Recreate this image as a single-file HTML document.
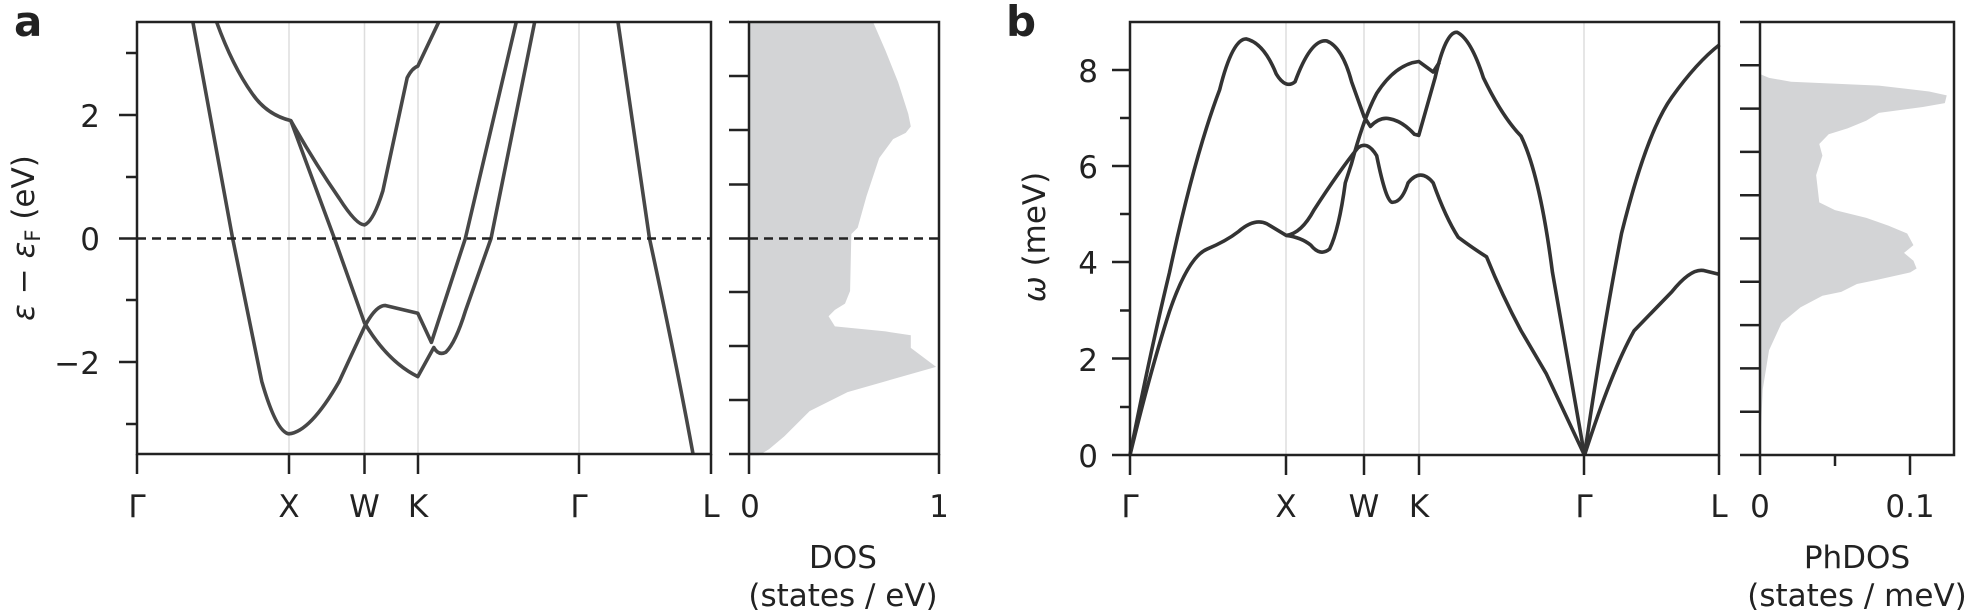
<!DOCTYPE html>
<html><head><meta charset="utf-8"><style>
html,body{margin:0;padding:0;background:#fff;}
svg{display:block;}
text{font-family:"DejaVu Sans","Liberation Sans",sans-serif;fill:#222;}
</style></head><body>
<svg width="1984" height="610" viewBox="0 0 1984 610" xmlns="http://www.w3.org/2000/svg">
<!-- ===== Panel a ===== -->
<g stroke="#ddd" stroke-width="1.5">
<line x1="289" y1="22" x2="289" y2="454"/><line x1="364.5" y1="22" x2="364.5" y2="454"/><line x1="418" y1="22" x2="418" y2="454"/><line x1="579" y1="22" x2="579" y2="454"/>
</g>
<g transform="scale(1.265)">
<path fill="#d3d4d6" d="M592,17 L690,17 L700,40 L710,65 L718,90 L720,100 L716,105 L706,110 L695,125 L685,155 L678,180 L673,185 L672,230 L668,240 L660,245 L655,250 L660,258 L700,262 L720,265 L720,275 L740,290 L670,310 L640,325 L620,345 L608,355 L600,360 L592,360 Z"/>
</g>
<g transform="scale(0.4847,0.3891)" fill="none" stroke="#474747" stroke-width="3.6" stroke-linejoin="round">
<path vector-effect="non-scaling-stroke" d="M398,57 L480,613 L540,980 Q570,1110 596,1115 Q640,1110 700,980 L752,840 Q775,785 795,785 L862,805 L890,880 L960,613 L1065,57"/>
<path vector-effect="non-scaling-stroke" d="M447,57 Q480,170 520,240 Q550,295 600,310 Q650,420 700,510 Q735,578 752,578 Q770,570 790,490 L840,200 Q850,175 862,170 L905,57"/>
<path vector-effect="non-scaling-stroke" d="M600,310 L690,613 L752,830 Q800,930 862,968 L895,893 Q905,915 920,905 Q940,880 960,800 L1013,613 L1103,57"/>
<path vector-effect="non-scaling-stroke" d="M1275,57 L1340,613 Q1395,930 1430,1168"/>
</g>
<line x1="137" y1="238.5" x2="711" y2="238.5" stroke="#222" stroke-width="2.5" stroke-dasharray="9,6"/>
<line x1="749" y1="238.5" x2="939" y2="238.5" stroke="#222" stroke-width="2.5" stroke-dasharray="9,6"/>
<g stroke="#222" stroke-width="2.5" fill="none">
<rect x="137" y="22" width="574" height="432"/>
<rect x="749" y="22" width="190" height="432"/>
<line x1="119" y1="115" x2="137" y2="115"/><line x1="119" y1="238.5" x2="137" y2="238.5"/><line x1="119" y1="362" x2="137" y2="362"/>
<line x1="126" y1="53" x2="137" y2="53"/><line x1="126" y1="177" x2="137" y2="177"/><line x1="126" y1="300" x2="137" y2="300"/><line x1="126" y1="424" x2="137" y2="424"/>
<line x1="137" y1="454" x2="137" y2="474"/><line x1="289" y1="454" x2="289" y2="474"/><line x1="364.5" y1="454" x2="364.5" y2="474"/><line x1="418" y1="454" x2="418" y2="474"/><line x1="579" y1="454" x2="579" y2="474"/><line x1="711" y1="454" x2="711" y2="474"/>
<line x1="749" y1="454" x2="749" y2="474"/><line x1="939" y1="454" x2="939" y2="474"/>
<line x1="729" y1="22" x2="749" y2="22"/><line x1="729" y1="76" x2="749" y2="76"/><line x1="729" y1="130" x2="749" y2="130"/><line x1="729" y1="184.5" x2="749" y2="184.5"/><line x1="729" y1="238.5" x2="749" y2="238.5"/><line x1="729" y1="292" x2="749" y2="292"/><line x1="729" y1="346" x2="749" y2="346"/><line x1="729" y1="400" x2="749" y2="400"/><line x1="729" y1="454" x2="749" y2="454"/>
</g>
<g font-size="31" text-anchor="end">
<text x="100" y="127">2</text><text x="100" y="250">0</text><text x="100" y="374">−2</text>
</g>
<g font-size="31" text-anchor="middle">
<text x="137" y="517">Γ</text><text x="289" y="517">X</text><text x="364.5" y="517">W</text><text x="418" y="517">K</text><text x="579" y="517">Γ</text><text x="711" y="517">L</text>
<text x="750" y="517">0</text><text x="939" y="517">1</text>
<text x="843" y="568">DOS</text><text x="843" y="606">(states / eV)</text>
</g>
<text font-size="31" text-anchor="middle" transform="translate(34,238) rotate(-90)"><tspan font-style="italic">ε</tspan> − <tspan font-style="italic">ε</tspan><tspan font-size="21" dy="6">F</tspan><tspan dy="-6"> (eV)</tspan></text>
<text x="14" y="36" font-size="42" font-weight="bold">a</text>

<!-- ===== Panel b ===== -->
<g stroke="#ddd" stroke-width="1.5">
<line x1="1286" y1="22" x2="1286" y2="455"/><line x1="1364" y1="22" x2="1364" y2="455"/><line x1="1419" y1="22" x2="1419" y2="455"/><line x1="1584" y1="22" x2="1584" y2="455"/>
</g>
<g transform="translate(1000,0) scale(0.6278,0.3891)">
<path fill="#d3d4d6" d="M1210,1170 L1215,1000 L1225,900 L1245,830 L1275,790 L1310,760 L1340,750 L1365,730 L1395,720 L1450,700 L1460,690 L1455,670 L1440,650 L1455,630 L1445,600 L1415,580 L1380,560 L1330,540 L1305,520 L1300,450 L1310,400 L1305,370 L1320,345 L1350,330 L1380,310 L1400,290 L1470,275 L1505,265 L1508,245 L1480,235 L1400,220 L1260,210 L1225,200 L1210,190 Z"/>
<g fill="none" stroke="#333" stroke-width="3.6" stroke-linejoin="round">
<path vector-effect="non-scaling-stroke" d="M207,1170 Q240,900 270,700 Q310,400 350,230 Q370,100 392,100 Q420,110 440,190 Q455,230 470,210 Q495,100 520,105 Q545,120 560,210 L580,300 L590,325 Q605,300 620,305 Q640,310 660,345 L667,348 L693,200 Q710,80 728,83 Q750,100 770,200 Q800,300 830,350 Q860,450 880,700 L931,1170"/>
<path vector-effect="non-scaling-stroke" d="M207,1170 Q240,950 270,800 Q300,660 330,640 Q360,620 380,595 Q405,560 425,575 L456,605 Q480,610 495,630 Q510,660 525,640 Q540,590 550,470 L560,420 Q580,300 600,240 Q630,165 667,158 L690,185 L700,160"/>
<path vector-effect="non-scaling-stroke" d="M456,605 Q480,600 500,540 Q540,440 570,380 Q585,360 600,400 Q615,520 625,520 Q640,520 650,470 Q670,430 690,470 Q710,560 730,610 Q755,640 775,660 Q800,760 830,850 L870,960 L931,1170"/>
<path vector-effect="non-scaling-stroke" d="M931,1170 Q960,850 990,600 Q1030,340 1070,250 Q1110,160 1146,115"/>
<path vector-effect="non-scaling-stroke" d="M931,1170 Q975,950 1010,850 Q1040,800 1070,750 Q1100,690 1120,695 L1146,705"/>
</g>
</g>
<g stroke="#222" stroke-width="2.5" fill="none">
<rect x="1130" y="22" width="589" height="433"/>
<rect x="1760" y="22" width="194" height="433"/>
<line x1="1112" y1="455" x2="1130" y2="455"/><line x1="1112" y1="358.5" x2="1130" y2="358.5"/><line x1="1112" y1="262" x2="1130" y2="262"/><line x1="1112" y1="166" x2="1130" y2="166"/><line x1="1112" y1="70" x2="1130" y2="70"/>
<line x1="1120" y1="407" x2="1130" y2="407"/><line x1="1120" y1="310.5" x2="1130" y2="310.5"/><line x1="1120" y1="214" x2="1130" y2="214"/><line x1="1120" y1="118" x2="1130" y2="118"/>
<line x1="1130" y1="455" x2="1130" y2="475"/><line x1="1286" y1="455" x2="1286" y2="475"/><line x1="1364" y1="455" x2="1364" y2="475"/><line x1="1419" y1="455" x2="1419" y2="475"/><line x1="1584" y1="455" x2="1584" y2="475"/><line x1="1719" y1="455" x2="1719" y2="475"/>
<line x1="1760" y1="455" x2="1760" y2="475"/><line x1="1910" y1="455" x2="1910" y2="475"/><line x1="1835" y1="455" x2="1835" y2="466"/>
<line x1="1740" y1="22" x2="1760" y2="22"/><line x1="1740" y1="65.3" x2="1760" y2="65.3"/><line x1="1740" y1="108.6" x2="1760" y2="108.6"/><line x1="1740" y1="151.9" x2="1760" y2="151.9"/><line x1="1740" y1="195.2" x2="1760" y2="195.2"/><line x1="1740" y1="238.5" x2="1760" y2="238.5"/><line x1="1740" y1="281.8" x2="1760" y2="281.8"/><line x1="1740" y1="325.1" x2="1760" y2="325.1"/><line x1="1740" y1="368.4" x2="1760" y2="368.4"/><line x1="1740" y1="411.7" x2="1760" y2="411.7"/><line x1="1740" y1="455" x2="1760" y2="455"/>
</g>
<g font-size="31" text-anchor="end">
<text x="1098" y="467">0</text><text x="1098" y="371">2</text><text x="1098" y="274">4</text><text x="1098" y="178">6</text><text x="1098" y="82">8</text>
</g>
<g font-size="31" text-anchor="middle">
<text x="1130" y="517">Γ</text><text x="1286" y="517">X</text><text x="1364" y="517">W</text><text x="1419" y="517">K</text><text x="1584" y="517">Γ</text><text x="1719" y="517">L</text>
<text x="1760" y="517">0</text><text x="1910" y="517">0.1</text>
<text x="1857" y="568">PhDOS</text><text x="1857" y="606">(states / meV)</text>
</g>
<text font-size="31" text-anchor="middle" transform="translate(1045,237) rotate(-90)"><tspan font-style="italic">ω</tspan> (meV)</text>
<text x="1006" y="36" font-size="42" font-weight="bold">b</text>
</svg>
</body></html>
